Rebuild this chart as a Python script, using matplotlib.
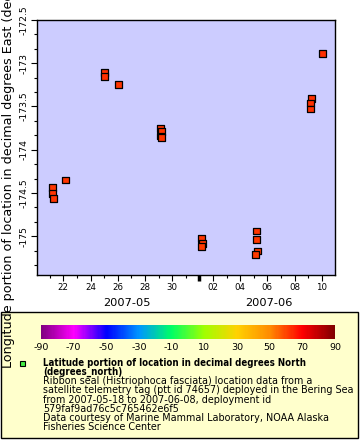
import matplotlib
matplotlib.use("Agg")
import matplotlib.pyplot as plt
import matplotlib.dates as mdates
import numpy as np
import pandas as pd
from matplotlib import ticker
from matplotlib.colors import LinearSegmentedColormap, Normalize
from matplotlib.patches import Rectangle
from matplotlib.colorbar import ColorbarBase
from matplotlib.transforms import blended_transform_factory

plt.rcParams["axes.unicode_minus"] = False

# ---- data (ribbon seal track, ptt 74657) ----
times = ["2007-05-21 04:48", "2007-05-21 04:48", "2007-05-21 06:15", "2007-05-22 03:35",
         "2007-05-25 00:00", "2007-05-25 00:00", "2007-05-26 01:10",
         "2007-05-29 03:05", "2007-05-29 04:50", "2007-05-29 03:05", "2007-05-29 04:50",
         "2007-06-01 03:35", "2007-06-01 04:50", "2007-06-01 03:35",
         "2007-06-05 04:50", "2007-06-05 04:50", "2007-06-05 06:15", "2007-06-05 02:25",
         "2007-06-09 05:45", "2007-06-09 03:50", "2007-06-09 03:50", "2007-06-10 01:00"]
lon = [-174.44, -174.51, -174.56, -174.35,
       -173.11, -173.15, -173.25,
       -173.75, -173.79, -173.84, -173.86,
       -175.03, -175.08, -175.12,
       -174.94, -175.04, -175.17, -175.21,
       -173.41, -173.46, -173.53, -172.89]
lat = [62.1, 62.1, 62.0, 62.2,
       62.6, 62.6, 62.5,
       62.3, 62.3, 62.2, 62.2,
       61.9, 61.9, 61.8,
       62.0, 61.9, 61.8, 61.8,
       62.7, 62.7, 62.6, 63.0]

cbar_ticks = [-90, -70, -50, -30, -10, 10, 30, 50, 70, 90]
cmap_nodes = [-90, -70, -50, -30, -10, 10, 30, 50, 70, 90]
cmap_colors = ["#800080", "#ff00ff", "#0000ff", "#0096ff", "#00ff64",
               "#a0ff00", "#ffd200", "#ff8c00", "#ff0000", "#800000"]

ylabel = "Longitude portion of location in decimal degrees East (degrees_east)"
legend_bold = ["Latitude portion of location in decimal degrees North",
               "(degrees_north)"]
legend_lines = ["Ribbon seal (Histriophoca fasciata) location data from a",
                "satellite telemetry tag (ptt id 74657) deployed in the Bering Sea",
                "from 2007-05-18 to 2007-06-08, deployment id",
                "579faf9ad76c5c765462e6f5",
                "Data courtesy of Marine Mammal Laboratory, NOAA Alaska",
                "Fisheries Science Center"]

t = pd.to_datetime(times)
W, H = 360, 440


def fx(px):
    return px / W


def fy(py):
    return 1 - py / H


rain = LinearSegmentedColormap.from_list(
    "rain", [((v + 90) / 180, c) for v, c in zip(cmap_nodes, cmap_colors)])
norm = Normalize(-90, 90)

fig = plt.figure(figsize=(3.6, 4.4), dpi=100)

# legend box (drawn first, behind everything)
fig.add_artist(Rectangle((fx(1), fy(437.5)), fx(356.5), 125.5 / H,
                         transform=fig.transFigure, facecolor="#ffffcc",
                         edgecolor="black", lw=1.0, zorder=-5))

ax = fig.add_axes([fx(37), fy(275), fx(298), 255 / H])
ax.set_facecolor("#ccccff")
ax.scatter(t, lon, c=lat, cmap=rain, norm=norm, marker="s", s=24,
           edgecolors="black", linewidths=0.9, zorder=3)

ax.set_xlim(pd.Timestamp("2007-05-20 01:30"), pd.Timestamp("2007-06-10 23:20"))
ax.set_ylim(-175.448, -172.5)

ax.xaxis.set_major_locator(mdates.DayLocator(bymonthday=range(2, 32, 2)))
ax.xaxis.set_major_formatter(mdates.DateFormatter("%d"))
ax.xaxis.set_minor_locator(mdates.DayLocator())
ax.yaxis.set_major_locator(ticker.MultipleLocator(0.5))
ax.yaxis.set_major_formatter(ticker.FormatStrFormatter("%g"))
ax.yaxis.set_minor_locator(ticker.AutoMinorLocator(3))

ax.tick_params(which="major", length=4, width=0.8, pad=2)
ax.tick_params(which="minor", length=2, width=0.8)
ax.tick_params(axis="x", labelsize=6.2)
ax.tick_params(axis="y", labelsize=6.7)
for lab in ax.get_yticklabels():
    lab.set_rotation(90)
    lab.set_va("center")
for sp in ax.spines.values():
    sp.set_linewidth(1.0)

# thick month-start tick
trans = blended_transform_factory(ax.transData, ax.transAxes)
ax.plot([pd.Timestamp("2007-06-01")] * 2, [0, -0.025], transform=trans,
        color="black", lw=2.5, clip_on=False, solid_capstyle="butt")

ax.text(pd.Timestamp("2007-05-26 16:00"), -0.109, "2007-05", transform=trans,
        ha="center", va="center", fontsize=8.2)
ax.text(pd.Timestamp("2007-06-06 02:30"), -0.109, "2007-06", transform=trans,
        ha="center", va="center", fontsize=8.2)

fig.text(fx(9), fy(147.5), ylabel, rotation=90, ha="center", va="center",
         fontsize=9.15)

# colour bar
cax = fig.add_axes([fx(41), fy(339), fx(294), 14 / H])
cb = ColorbarBase(cax, cmap=rain, norm=norm, orientation="horizontal",
                  ticks=cbar_ticks)
cb.outline.set_visible(False)
cax.tick_params(length=0, labelsize=6.8, pad=3)

# legend entry
fig.add_artist(Rectangle((fx(20), fy(365.5)), fx(5), 5 / H,
                         transform=fig.transFigure, facecolor="#44ee44",
                         edgecolor="black", lw=0.8))
y = 363.3
for line in legend_bold:
    fig.text(fx(43), fy(y), line, fontsize=6.9, fontweight="bold",
             fontstretch="condensed", ha="left", va="center")
    y += 9.05
for line in legend_lines:
    fig.text(fx(43), fy(y), line, fontsize=6.9, ha="left", va="center")
    y += 9.05

fig.savefig("out.png", dpi=100)
plt.close(fig)
